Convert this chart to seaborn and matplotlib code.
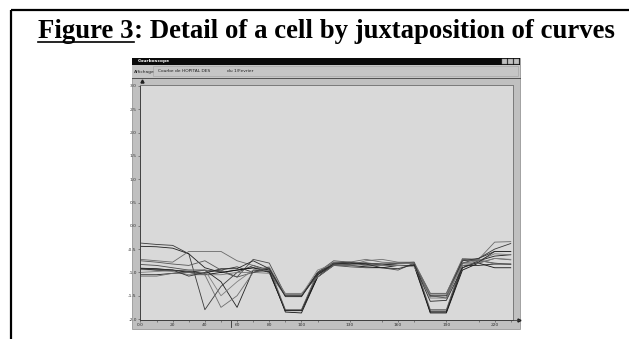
import matplotlib
matplotlib.use('Agg')
import matplotlib.pyplot as plt
import seaborn as sns
import pandas as pd
from matplotlib.patches import Rectangle

# sampling positions of the curves (one point every 10 units)
x_pos = [0, 10, 20, 30, 40, 50, 60, 70, 80, 90, 100, 110,
         120, 130, 140, 150, 160, 170, 180, 190, 200, 210, 220, 230]

# curves
curve_a = [-0.37, -0.40, -0.42, -0.60, -1.80, -1.30, -1.00, -0.85, -0.95, -1.50, -1.50, -1.05,
           -0.80, -0.82, -0.80, -0.85, -0.85, -0.85, -1.50, -1.55, -0.80, -0.70, -0.50, -0.38]
curve_b = [-0.44, -0.45, -0.48, -0.60, -0.90, -1.00, -0.95, -0.90, -1.00, -1.82, -1.82, -1.10,
           -0.82, -0.80, -0.82, -0.85, -0.80, -0.80, -1.85, -1.85, -0.90, -0.75, -0.65, -0.62]
curve_c = [-0.72, -0.75, -0.78, -0.55, -0.55, -0.55, -0.75, -0.85, -1.00, -1.50, -1.52, -1.00,
           -0.78, -0.78, -0.72, -0.78, -0.80, -0.82, -1.52, -1.50, -0.75, -0.72, -0.35, -0.34]
curve_d = [-0.83, -0.85, -0.90, -0.95, -0.95, -0.98, -1.10, -0.72, -0.80, -1.48, -1.48, -1.05,
           -0.85, -0.88, -0.90, -0.90, -0.95, -0.80, -1.45, -1.45, -0.72, -0.75, -0.80, -0.83]
curve_e = [-0.91, -0.92, -0.95, -1.00, -1.05, -1.00, -0.95, -0.90, -0.95, -1.85, -1.87, -1.10,
           -0.85, -0.85, -0.88, -0.90, -0.85, -0.85, -1.87, -1.87, -0.95, -0.80, -0.90, -0.90]
curve_f = [-0.94, -0.95, -0.98, -1.05, -1.05, -1.05, -1.00, -1.00, -1.02, -1.50, -1.50, -1.02,
           -0.83, -0.85, -0.82, -0.85, -0.82, -0.80, -1.55, -1.55, -0.80, -0.75, -0.60, -0.62]
curve_g = [-1.05, -1.05, -1.02, -1.00, -0.95, -1.20, -1.75, -0.95, -0.98, -1.82, -1.82, -1.05,
           -0.82, -0.83, -0.80, -0.82, -0.85, -0.85, -1.83, -1.83, -0.85, -0.85, -0.82, -0.82]
curve_h = [-1.08, -1.08, -1.02, -1.00, -1.05, -1.75, -1.50, -1.00, -0.95, -1.45, -1.45, -1.10,
           -0.85, -0.85, -0.75, -0.72, -0.78, -0.78, -1.45, -1.45, -0.70, -0.72, -0.82, -0.82]
curve_i = [-0.92, -0.93, -0.95, -1.08, -1.00, -0.95, -0.88, -1.00, -0.90, -1.50, -1.50, -1.00,
           -0.80, -0.78, -0.85, -0.85, -0.85, -0.85, -1.50, -1.50, -0.75, -0.70, -0.55, -0.55]
curve_j = [-0.75, -0.78, -0.82, -0.85, -0.75, -0.95, -1.10, -1.00, -0.90, -1.80, -1.80, -1.00,
           -0.75, -0.78, -0.80, -0.82, -0.80, -0.78, -1.80, -1.80, -0.80, -0.80, -0.70, -0.73]
curve_k = [-1.00, -0.98, -0.96, -0.95, -0.95, -1.50, -1.20, -0.95, -0.88, -1.48, -1.48, -0.95,
           -0.82, -0.82, -0.85, -0.85, -0.85, -0.88, -1.48, -1.48, -0.85, -0.80, -0.70, -0.72]
curve_l = [-0.92, -0.95, -0.95, -0.98, -1.02, -0.92, -0.92, -0.75, -0.92, -1.52, -1.52, -1.02,
           -0.82, -0.80, -0.82, -0.90, -0.92, -0.83, -1.62, -1.60, -0.90, -0.78, -0.55, -0.55]

curves = [curve_a, curve_b, curve_c, curve_d, curve_e, curve_f,
          curve_g, curve_h, curve_i, curve_j, curve_k, curve_l]
curve_colors = ['#3a3a3a', '#1e1e1e', '#6a6a6a', '#4a4a4a', '#111111', '#777777',
                '#222222', '#6e6e6e', '#333333', '#555555', '#808080', '#2a2a2a']

x_ticks = [0, 20, 40, 60, 80, 100, 130, 160, 190, 220]
x_tick_labels = ['0.0', '20', '40', '60', '80', '100', '130', '160', '190', '220']
y_ticks = [3.0, 2.5, 2.0, 1.5, 1.0, 0.5, 0.0, -0.5, -1.0, -1.5, -2.0]
y_tick_labels = ['3.0', '2.5', '2.0', '1.5', '1.0', '0.5', '0.0', '-0.5', '-1.0', '-1.5', '-2.0']

title_main = 'Figure 3'
title_rest = ': Detail of a cell by juxtaposition of curves'
menu_items = ['Affichage', 'Courbe de HOPITAL DES', 'du 1/Fevrier']
window_title = 'Courboscope'

rows = []
for k, ys in enumerate(curves):
    for xv, yv in zip(x_pos, ys):
        rows.append({'x': xv, 'value': yv, 'curve': k})
df = pd.DataFrame(rows)

W, H = 631, 339
fig = plt.figure(figsize=(W / 100, H / 100), dpi=100)
fig.patch.set_facecolor('white')

# background layer in pixel coordinates: window chrome, frame, title
bg = fig.add_axes([0, 0, 1, 1])
bg.set_xlim(0, W)
bg.set_ylim(H, 0)
bg.axis('off')

bg.add_patch(Rectangle((131.5, 58), 388.5, 271, fc='#c0c0c0', ec='#8a8a8a', lw=0.5))
bg.add_patch(Rectangle((131.5, 58), 388.5, 6.5, fc='#0a0a0a', ec='none'))
bg.add_patch(Rectangle((131.5, 64.5), 388.5, 13, fc='#c6c6c6', ec='none'))
bg.add_patch(Rectangle((153, 66), 365, 10, fc='none', ec='#a0a0a0', lw=0.4))
bg.plot([131.5, 520], [78, 78], color='#505050', lw=0.7)
for bx in [502, 508, 514]:
    bg.add_patch(Rectangle((bx, 59), 5, 4.5, fc='#c0c0c0', ec='#808080', lw=0.3))
bg.text(138, 61.3, window_title, color='white', fontsize=3.2, fontweight='bold', va='center')
for tx, item in zip([134, 158, 227], menu_items):
    bg.text(tx, 71.5, item, fontsize=3.2, va='center', color='#202020')

# outer frame
bg.plot([10.5, 629], [9.8, 9.8], color='black', lw=1.6, solid_capstyle='butt')
bg.plot([11.3, 11.3], [9.8, 339], color='black', lw=1.6, solid_capstyle='butt')

# title with underlined "Figure 3"
t1 = bg.text(38, 37.5, title_main, fontsize=19.3, fontweight='bold',
             family='Liberation Serif', va='baseline', ha='left')
renderer = fig.canvas.get_renderer()
bb = t1.get_window_extent(renderer)
bg.text(bb.x1, 37.5, title_rest, fontsize=19.3, fontweight='bold',
        family='Liberation Serif', va='baseline', ha='left')
bg.plot([38, bb.x1], [42.2, 42.2], color='black', lw=1.2)

# axis arrows and cursor mark
bg.plot([519], [320], marker='>', ms=2.2, color='#202020')
bg.plot([141.5], [80.5], marker='^', ms=2.2, color='#202020')
bg.plot([230.7, 230.7], [318, 327], color='#303030', lw=0.6)
bg.plot([519, 141], [320, 320], color='#404040', lw=0.6)

# the plot panel
ax = fig.add_axes([140 / W, 19 / H, 373 / W, 235 / H])
ax.set_facecolor('#d9d9d9')
sns.lineplot(data=df, x='x', y='value', hue='curve', palette=curve_colors,
             legend=False, linewidth=0.6, ax=ax, estimator=None, sort=False)
ax.set_xlim(-0.3, 231.4)
ax.set_ylim(-2.021, 3.021)
ax.set_xticks(x_ticks)
ax.set_xticklabels(x_tick_labels)
ax.set_xticks(list(range(10, 231, 20)), minor=True)
ax.set_yticks(y_ticks)
ax.set_yticklabels(y_tick_labels)
ax.tick_params(axis='both', labelsize=3.2, labelcolor='#303030', color='#404040',
               length=1.5, width=0.4, pad=0.8, direction='out')
ax.tick_params(axis='x', which='minor', length=1.2, width=0.4, color='#404040')
ax.set_xlabel('')
ax.set_ylabel('')
ax.spines['left'].set_color('#404040')
ax.spines['bottom'].set_color('#404040')
ax.spines['top'].set_color('#7a7a7a')
ax.spines['right'].set_color('#7a7a7a')
for s in ax.spines.values():
    s.set_linewidth(0.7)

fig.savefig('out.png', dpi=100)
